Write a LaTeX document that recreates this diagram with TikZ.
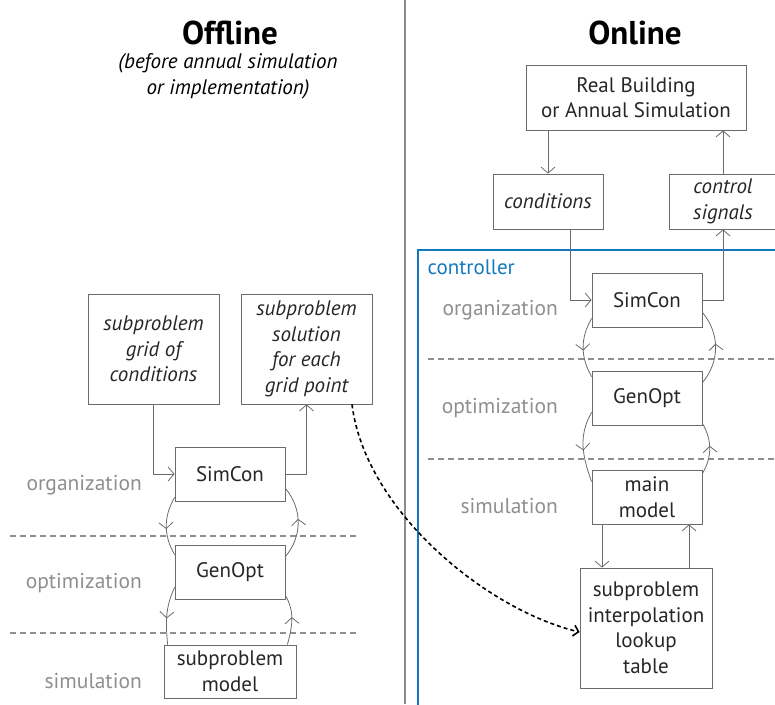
\documentclass[tikz,border=0pt]{standalone}
\usepackage{fontspec}
\setmainfont{PT Sans}
\usepackage{xcolor}
\definecolor{linegr}{gray}{0.42}
\definecolor{labgr}{gray}{0.56}
\definecolor{divgr}{gray}{0.55}
\definecolor{ctrlblue}{RGB}{20,120,190}
\usetikzlibrary{arrows.meta, decorations.markings, positioning}

\begin{document}
\begin{tikzpicture}[x=1pt, y=1pt,
  box/.style={draw=linegr, line width=0.8pt, align=center, inner sep=1pt,
    font=\fontsize{21}{25.5}\selectfont, text=black!85},
  ibox/.style={box, font=\fontsize{21}{25.5}\selectfont\itshape},
  conn/.style={draw=linegr, line width=0.8pt, -{Straight Barb[length=6pt, width=14pt]}},
  loop/.style={draw=linegr, line width=0.8pt, postaction={decorate},
    decoration={markings, mark=at position 0.55 with {\arrow{Straight Barb[length=6pt, width=14pt]}}}},
  level/.style={draw=labgr, line width=1.6pt, dash pattern=on 6pt off 4pt},
  lvltext/.style={text=labgr, anchor=east, inner sep=0pt, font=\fontsize{21.5}{26}\selectfont}]
\useasboundingbox (0,0) rectangle (775,-704);

% divider and controller frame
\draw[divgr, line width=2.5pt] (405,0) -- (405,-704);
\draw[ctrlblue, line width=1.2pt] (790,-250) -- (418,-250) -- (418,-720);
\node[anchor=west, text=ctrlblue, font=\fontsize{21}{26}\selectfont] (ctrllab) at (424,-267) {controller};

% titles
\node[font=\fontsize{33}{36}\selectfont\bfseries] (offt) at (230,-33) {Offline};
\node[font=\fontsize{33}{36}\selectfont\bfseries] (ont) at (635,-33) {Online};
\node[align=center, font=\fontsize{21}{26}\selectfont\itshape] (offsub) at (228,-76) {(before annual simulation\\or implementation)};

% levels
\foreach \y in {-536,-633}{
\draw[level] (10,\y) -- (357,\y);
}
\foreach \y in {-359,-459}{
\draw[level] (428,\y) -- (775,\y);
}
\foreach \x/\y/\lvl in {142/-485/organization, 142/-583/optimization, 142/-681/simulation,
  558/-310/organization, 558/-408/optimization, 558/-506/simulation}{
\node[lvltext] at (\x,\y) {\lvl};
}

% offline nodes
\node[ibox, minimum width=131, minimum height=110] (grid) at (153.5,-349) {subproblem\\grid of\\conditions};
\node[ibox, minimum width=131, minimum height=110] (sol) at (306.5,-349) {subproblem\\solution\\for each\\grid point};
\node[box, minimum width=110, minimum height=54] (scA) at (230,-474) {SimCon};
\node[box, minimum width=110, minimum height=54] (goA) at (230,-572) {GenOpt};
\node[box, minimum width=132, minimum height=53] (modA) at (230,-671.5) {subproblem\\model};

% online nodes
\node[box, minimum width=220, minimum height=65] (real) at (636,-97.5) {Real Building\\or Annual Simulation};
\node[ibox, minimum width=110, minimum height=55] (cond) at (548,-201.5) {conditions};
\node[ibox, minimum width=108, minimum height=55] (ctrl) at (723,-201.5) {control\\signals};
\node[box, minimum width=110, minimum height=54] (scB) at (647,-300) {SimCon};
\node[box, minimum width=110, minimum height=54] (goB) at (647,-398) {GenOpt};
\node[box, minimum width=110, minimum height=54] (mainB) at (647,-497) {main\\model};
\node[box, minimum width=132, minimum height=120] (interp) at (646,-628) {subproblem\\interpolation\\lookup\\table};

% offline connectors
\draw[conn] (grid.south) |- (scA.west);
\draw[conn] (scA.east) -| (sol.south);
\draw[loop] ([yshift=4]scA.south west) to[out=-120, in=120] ([yshift=-10]goA.north west);
\draw[loop] ([yshift=-12]goA.north east) to[out=50, in=-50] ([yshift=13]scA.south east);
\draw[loop] ([yshift=12]goA.south west) to[out=-115, in=95] ([xshift=4]modA.north west);
\draw[loop] ([xshift=-9]modA.north east) to[out=75, in=-60] ([yshift=4]goA.south east);

% online connectors
\draw[conn] (real.south -| cond.north) -- (cond.north);
\draw[conn] ([xshift=22]cond.south) |- (scB.west);
\draw[conn] (scB.east) -| (ctrl.south);
\draw[conn] (ctrl.north) -- (ctrl.north |- real.south);
\draw[loop] ([yshift=9]scB.south west) to[out=-120, in=120] ([yshift=-6]goB.north west);
\draw[loop] ([yshift=-12]goB.north east) to[out=50, in=-50] ([yshift=15]scB.south east);
\draw[loop] ([yshift=13]goB.south west) to[out=-120, in=110] ([yshift=-12]mainB.north west);
\draw[loop] ([yshift=-4]mainB.north east) to[out=60, in=-60] ([yshift=2]goB.south east);
\draw[conn] ([xshift=-45]mainB.south) -- ([xshift=-45]mainB.south |- interp.north);
\draw[conn] ([xshift=42]mainB.south |- interp.north) -- ([xshift=42]mainB.south);

% lookup table handed over
\draw[black, line width=1.6pt, dash pattern=on 4pt off 3pt, -{Straight Barb[length=5pt, width=11pt]}]
  ([xshift=45.5]sol.south) .. controls +(13,-106) and +(-93,22) .. ([yshift=-4]interp.west);
\end{tikzpicture}
\end{document}
